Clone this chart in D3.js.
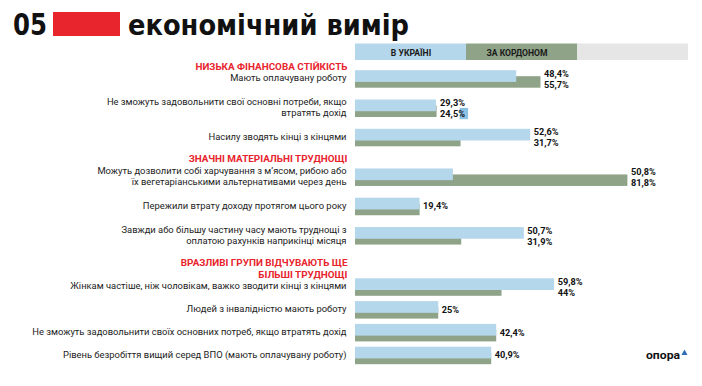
<!DOCTYPE html>
<html>
<head>
<meta charset="utf-8">
<script src="https://cdn.jsdelivr.net/npm/d3@7"></script>
<style>
  html, body { margin: 0; padding: 0; background: #fff; }
  svg { display: block; }
</style>
</head>
<body>
<div id="chart"></div>
<script>
// дані
const groups = [
  ["НИЗЬКА ФІНАНСОВА СТІЙКІСТЬ"],
  ["ЗНАЧНІ МАТЕРІАЛЬНІ ТРУДНОЩІ"],
  ["ВРАЗЛИВІ ГРУПИ ВІДЧУВАЮТЬ ЩЕ", "БІЛЬШІ ТРУДНОЩІ"]
];
const rowGroup = [0, 0, 0, 1, 1, 1, 2, 2, 2, 2];
const rowLabels = [
  ["Мають оплачувану роботу"],
  ["Не зможуть задовольнити свої основні потреби, якщо", "втратять дохід"],
  ["Насилу зводять кінці з кінцями"],
  ["Можуть дозволити собі харчування з м’ясом, рибою або", "їх вегетаріанськими альтернативами через день"],
  ["Пережили втрату доходу протягом цього року"],
  ["Завжди або більшу частину часу мають труднощі з", "оплатою рахунків наприкінці місяця"],
  ["Жінкам частіше, ніж чоловікам, важко зводити кінці з кінцями"],
  ["Людей з інвалідністю мають роботу"],
  ["Не зможуть задовольнити своїх основних потреб, якщо втратять дохід"],
  ["Рівень безробіття вищий серед ВПО (мають оплачувану роботу)"]
];
const ukraine = [48.4, 29.3, 52.6, 50.8, 19.4, 50.7, 59.8, 25, 42.4, 40.9];
const abroad  = [55.7, 24.5, 31.7, 81.8, 19.4, 31.9, 44, 25, 42.4, 40.9];
// довжини блакитних смуг так, як їх намальовано в оригіналі (у двох рядках не збігаються з підписами)
const ukraineBar = [48.4, 24.3, 52.6, 29.4, 19.4, 50.7, 59.8, 25, 42.4, 40.9];
const legendLabels = ["В УКРАЇНІ", "ЗА КОРДОНОМ", ""];

const width = 702, height = 386;
const blue = "#b5d7ec", green = "#8fa388", grey = "#e6e6e6", red = "#e8242d";
const font = "Roboto, 'Noto Sans', sans-serif";

const svg = d3.select("#chart").append("svg")
  .attr("width", width)
  .attr("height", height);

// заголовок
svg.append("text")
  .attr("x", 13).attr("y", 35)
  .attr("font-family", "'DejaVu Sans', sans-serif")
  .attr("font-weight", "bold")
  .attr("font-size", 31)
  .attr("fill", "#111")
  .attr("textLength", 34).attr("lengthAdjust", "spacingAndGlyphs")
  .text("05");
svg.append("rect")
  .attr("x", 53).attr("y", 12)
  .attr("width", 67).attr("height", 24)
  .attr("fill", red);
svg.append("text")
  .attr("x", 128).attr("y", 35)
  .attr("font-family", "'DejaVu Sans', sans-serif")
  .attr("font-weight", "bold")
  .attr("font-size", 28)
  .attr("fill", "#111")
  .attr("textLength", 281).attr("lengthAdjust", "spacingAndGlyphs")
  .text("економічний вимір");

const x = d3.scaleLinear().domain([0, 100]).range([355, 688]);

// шапка-легенда: три рівні частини шкали
const legend = d3.scaleBand().domain(d3.range(3)).range([0, 100]);
const legendG = svg.append("g");
legendG.selectAll("rect")
  .data(legendLabels)
  .join("rect")
  .attr("x", (d, i) => x(legend(i)))
  .attr("y", 43.5)
  .attr("width", (d, i) => x(legend(i) + legend.bandwidth()) - x(legend(i)))
  .attr("height", 16.5)
  .attr("fill", (d, i) => [blue, green, grey][i]);
legendG.selectAll("text")
  .data(legendLabels)
  .join("text")
  .attr("x", (d, i) => x(legend(i)) + (i === 0 ? 56 : 51))
  .attr("y", 56.3)
  .attr("text-anchor", "middle")
  .attr("font-family", font)
  .attr("font-weight", "bold")
  .attr("font-size", 8.6)
  .attr("fill", "#1a1a1a")
  .text(d => d);

// розкладка рядків
const lineH = 11.3;
const layout = [];
const headers = [];
let lastLine = 54;
groups.forEach((g, gi) => {
  const rows = d3.range(rowGroup.length).filter(i => rowGroup[i] === gi);
  const multi = rows.some(i => rowLabels[i].length > 1);
  const step = multi ? 29.3 : 22.8;
  let hc = lastLine + 12;
  headers.push({ lines: g, y: hc });
  hc += (g.length - 1) * 11.6;
  let c;
  rows.forEach((i, k) => {
    const n = rowLabels[i].length;
    if (k === 0) c = hc + 12 + (n - 1) * lineH / 2;
    else c += step;
    layout[i] = c;
    lastLine = c + (n - 1) * lineH / 2 + 10;
  });
});

// заголовки груп
headers.forEach(h => {
  svg.append("text")
    .attr("x", 347.5)
    .attr("text-anchor", "end")
    .attr("font-family", font)
    .attr("font-weight", "bold")
    .attr("font-size", 9.9)
    .attr("fill", red)
    .selectAll("tspan")
    .data(h.lines)
    .join("tspan")
    .attr("x", 347.5)
    .attr("y", (d, j) => h.y + j * 11.6 + 3.5)
    .text(d => d);
});

const rows = svg.append("g").selectAll("g")
  .data(d3.range(rowLabels.length))
  .join("g");

// підписи рядків
rows.append("text")
  .attr("text-anchor", "end")
  .attr("font-family", font)
  .attr("font-size", 9.4)
  .attr("fill", "#222")
  .selectAll("tspan")
  .data(i => rowLabels[i].map((t, j) => ({ t, j, i })))
  .join("tspan")
  .attr("x", 346.5)
  .attr("y", d => layout[d.i] + (d.j - (rowLabels[d.i].length - 1) / 2) * lineH + 3.3)
  .text(d => d.t);

// смуги
rows.append("rect")
  .attr("x", x(0))
  .attr("y", i => layout[i] - 1.8)
  .attr("width", i => x(abroad[i]) - x(0))
  .attr("height", 11.5)
  .attr("fill", green);
rows.append("rect")
  .attr("x", x(0))
  .attr("y", i => layout[i] - 7.8)
  .attr("width", i => x(ukraineBar[i]) - x(0))
  .attr("height", 11.7)
  .attr("fill", blue);

// підписи значень
const fmt = v => String(v).replace(".", ",") + "%";
rows.each(function(i) {
  const g = d3.select(this);
  const lx = x(Math.max(ukraineBar[i], abroad[i])) + 3.5;
  const vals = ukraine[i] === abroad[i]
    ? [{ v: ukraine[i], dy: 0.6 }]
    : [{ v: ukraine[i], dy: -4.6 }, { v: abroad[i], dy: 6.4 }];
  if (i === 1) {
    // маленький блакитний квадратик біля «%» в оригіналі
    g.append("rect")
      .attr("x", lx + 19.5)
      .attr("y", layout[i] + 0.6)
      .attr("width", 8.5)
      .attr("height", 11.3)
      .attr("fill", "#8cc1e3");
  }
  g.selectAll("text.val")
    .data(vals)
    .join("text")
    .attr("class", "val")
    .attr("x", lx)
    .attr("y", d => layout[i] + d.dy + 3.3)
    .attr("font-family", font)
    .attr("font-weight", "bold")
    .attr("font-size", 9.2)
    .attr("fill", "#111")
    .text(d => fmt(d.v));
});

// логотип
svg.append("text")
  .attr("x", 646).attr("y", 358.5)
  .attr("font-family", font)
  .attr("font-weight", "bold")
  .attr("font-size", 11.5)
  .attr("fill", "#111")
  .attr("textLength", 34).attr("lengthAdjust", "spacingAndGlyphs")
  .text("опора");
svg.append("path")
  .attr("d", "M681.5,355 L684.5,349.5 L687.5,355 Z")
  .attr("fill", "#2b6cb3");
</script>
</body>
</html>
